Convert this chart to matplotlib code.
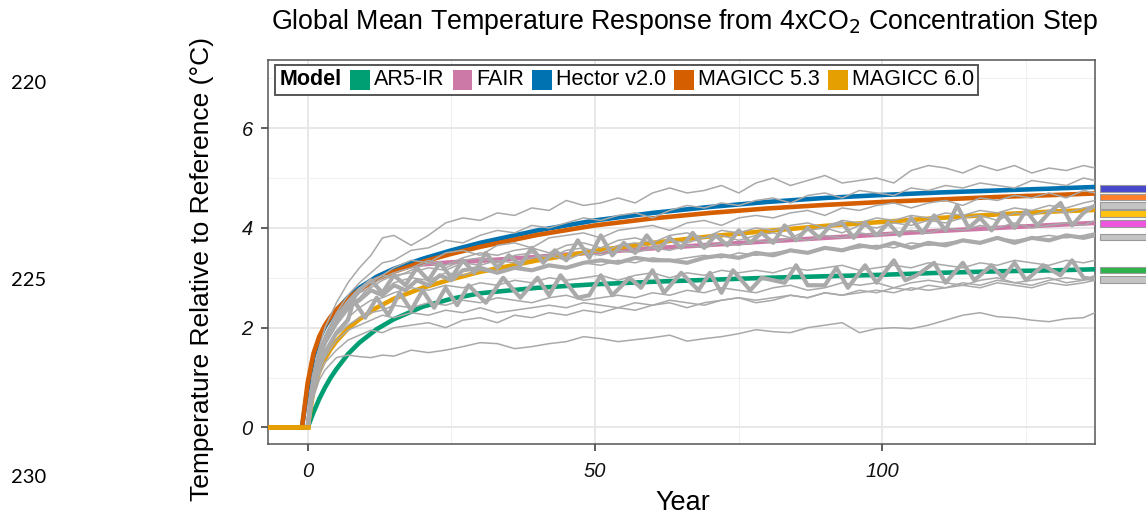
import numpy as np
import matplotlib
matplotlib.use("Agg")
import matplotlib.pyplot as plt
from matplotlib.patches import Rectangle
from matplotlib.transforms import blended_transform_factory
from matplotlib.offsetbox import HPacker, TextArea, DrawingArea, AnchoredOffsetbox

plt.rcParams['font.family'] = ['Liberation Sans', 'DejaVu Sans']

# model responses (smooth curves)
model_years = [-7, -1, 0, 1, 2, 3, 4, 5, 7, 9, 12, 15, 20, 25, 30, 40, 50, 60, 70, 80, 90, 100, 110, 120, 130, 137]
ar5ir = [0, 0, 0, 0.3, 0.57, 0.8, 1.0, 1.17, 1.47, 1.7, 1.97, 2.17, 2.42, 2.58, 2.69, 2.8, 2.87, 2.92, 2.96, 3.0, 3.03, 3.06, 3.1, 3.13, 3.15, 3.17]
fair = [0, 0, 0, 1.0, 1.45, 1.75, 1.98, 2.17, 2.5, 2.75, 3.02, 3.17, 3.27, 3.31, 3.34, 3.42, 3.51, 3.59, 3.66, 3.73, 3.8, 3.87, 3.94, 4.0, 4.06, 4.1]
hector = [0, 0, 0.8, 1.42, 1.78, 2.02, 2.2, 2.35, 2.6, 2.8, 3.02, 3.18, 3.38, 3.55, 3.7, 3.95, 4.15, 4.3, 4.42, 4.52, 4.6, 4.66, 4.71, 4.75, 4.79, 4.82]
magicc53 = [0, 0, 0.9, 1.48, 1.82, 2.05, 2.22, 2.36, 2.58, 2.76, 2.97, 3.12, 3.32, 3.48, 3.62, 3.86, 4.05, 4.19, 4.3, 4.39, 4.46, 4.52, 4.57, 4.62, 4.66, 4.69]
magicc60 = [0, 0, 0, 0.75, 1.12, 1.38, 1.57, 1.73, 1.98, 2.17, 2.4, 2.58, 2.8, 2.97, 3.12, 3.35, 3.54, 3.7, 3.83, 3.94, 4.04, 4.12, 4.2, 4.27, 4.33, 4.36]

model_names = ['AR5-IR', 'FAIR', 'Hector v2.0', 'MAGICC 5.3', 'MAGICC 6.0']
model_colors = ['#009E73', '#CC79A7', '#0072B2', '#D55E00', '#E69F00']

# CMIP5 runs (thin gray)
gray_years = [0, 1, 2, 3, 5, 7, 9, 11, 13, 15,
              18, 21, 24, 27, 30, 33, 36, 39, 42, 45,
              48, 51, 54, 57, 60, 63, 66, 69, 72, 75,
              78, 81, 84, 87, 90, 93, 96, 99, 102, 105,
              108, 111, 114, 117, 120, 123, 126, 129, 132, 135,
              137]
cmip_1 = [0, 1.1, 1.6, 2.0, 2.5, 2.9, 3.2, 3.45, 3.8, 3.85,
          3.65, 3.85, 4.1, 4.2, 4.15, 4.3, 4.25, 4.4, 4.35, 4.55,
          4.45, 4.5, 4.6, 4.5, 4.7, 4.8, 4.7, 4.75, 4.85, 4.7,
          4.9, 5.0, 4.85, 4.95, 5.05, 4.9, 4.95, 5.0, 4.9, 5.15,
          5.25, 5.2, 5.1, 5.25, 5.15, 5.25, 5.1, 5.2, 5.15, 5.25,
          5.2]
cmip_2 = [0, 1.0, 1.5, 1.85, 2.3, 2.65, 2.9, 3.1, 3.3, 3.35,
          3.55, 3.6, 3.75, 3.7, 3.85, 3.95, 3.9, 4.05, 4.0, 4.1,
          4.2, 4.15, 4.25, 4.3, 4.2, 4.35, 4.45, 4.4, 4.5, 4.45,
          4.55, 4.6, 4.5, 4.65, 4.7, 4.6, 4.75, 4.7, 4.65, 4.8,
          4.75, 4.85, 4.8, 4.9, 4.85, 4.8, 4.95, 4.9, 4.85, 5.0,
          4.95]
cmip_3 = [0, 1.1, 1.55, 1.8, 2.2, 2.5, 2.75, 2.95, 3.05, 3.2,
          3.35, 3.3, 3.5, 3.55, 3.45, 3.65, 3.7, 3.6, 3.8, 3.85,
          3.9, 3.8, 3.95, 4.0, 4.05, 3.95, 4.1, 4.15, 4.05, 4.2,
          4.25, 4.2, 4.3, 4.35, 4.25, 4.4, 4.35, 4.45, 4.5, 4.4,
          4.5, 4.55, 4.45, 4.6, 4.55, 4.65, 4.6, 4.7, 4.6, 4.75,
          4.7]
cmip_4 = [0, 0.9, 1.35, 1.7, 2.1, 2.45, 2.6, 2.85, 3.0, 3.1,
          3.2, 3.35, 3.25, 3.4, 3.5, 3.45, 3.55, 3.6, 3.5, 3.65,
          3.7, 3.6, 3.75, 3.8, 3.7, 3.85, 3.9, 3.8, 3.95, 3.9,
          4.0, 3.95, 4.05, 4.1, 4.0, 4.15, 4.1, 4.2, 4.15, 4.25,
          4.2, 4.3, 4.25, 4.35, 4.3, 4.4, 4.35, 4.45, 4.4, 4.5,
          4.55]
cmip_5 = [0, 1.0, 1.4, 1.75, 2.15, 2.4, 2.7, 2.8, 2.95, 3.05,
          3.1, 3.2, 3.15, 3.3, 3.25, 3.35, 3.3, 3.4, 3.45, 3.35,
          3.5, 3.45, 3.55, 3.5, 3.6, 3.55, 3.65, 3.6, 3.7, 3.65,
          3.75, 3.7, 3.8, 3.75, 3.85, 3.8, 3.9, 3.85, 3.9, 3.95,
          3.9, 4.0, 3.95, 4.05, 4.0, 4.1, 4.0, 4.05, 4.1, 4.05,
          4.15]
cmip_6 = [0, 0.95, 1.35, 1.65, 2.05, 2.35, 2.55, 2.75, 2.7, 2.9,
          3.0, 2.95, 3.1, 3.05, 3.15, 3.1, 3.2, 3.15, 3.25, 3.2,
          3.3, 3.25, 3.35, 3.3, 3.4, 3.35, 3.4, 3.45, 3.4, 3.5,
          3.45, 3.5, 3.55, 3.5, 3.6, 3.55, 3.6, 3.65, 3.6, 3.7,
          3.65, 3.7, 3.75, 3.7, 3.8, 3.75, 3.8, 3.85, 3.8, 3.85,
          3.9]
cmip_7 = [0, 0.85, 1.25, 1.55, 1.9, 2.2, 2.4, 2.55, 2.6, 2.7,
          2.8, 2.75, 2.85, 2.8, 2.9, 2.85, 2.95, 2.9, 3.0, 2.95,
          3.0, 3.05, 2.95, 3.05, 3.1, 3.0, 3.1, 3.05, 3.15, 3.1,
          3.15, 3.1, 3.2, 3.15, 3.2, 3.25, 3.15, 3.2, 3.25, 3.2,
          3.3, 3.25, 3.2, 3.3, 3.25, 3.35, 3.3, 3.25, 3.35, 3.3,
          3.35]
cmip_8 = [0, 0.8, 1.2, 1.5, 1.85, 2.05, 2.2, 2.3, 2.35, 2.45,
          2.4, 2.5, 2.45, 2.55, 2.5, 2.6, 2.55, 2.5, 2.6, 2.65,
          2.55, 2.6, 2.65, 2.6, 2.7, 2.65, 2.75, 2.7, 2.8, 2.75,
          2.7, 2.8, 2.85, 2.75, 2.8, 2.9, 2.85, 2.9, 2.8, 2.9,
          2.95, 2.9, 2.85, 2.95, 3.0, 2.9, 2.95, 3.0, 2.9, 2.95,
          3.0]
cmip_9 = [0, 0.75, 1.15, 1.4, 1.75, 1.95, 2.05, 2.15, 2.25, 2.2,
          2.3, 2.25, 2.35, 2.3, 2.4, 2.3, 2.35, 2.4, 2.45, 2.4,
          2.5, 2.45, 2.4, 2.5, 2.45, 2.55, 2.5, 2.45, 2.55, 2.6,
          2.55, 2.6, 2.65, 2.6, 2.7, 2.65, 2.7, 2.75, 2.7, 2.8,
          2.75, 2.8, 2.85, 2.8, 2.9, 2.85, 2.8, 2.9, 2.85, 2.9,
          2.95]
cmip_10 = [0, 0.7, 1.05, 1.3, 1.55, 1.75, 1.85, 1.95, 1.9, 2.0,
           2.05, 2.1, 2.0, 2.15, 2.2, 2.1, 2.25, 2.2, 2.3, 2.25,
           2.35, 2.3, 2.4, 2.35, 2.45, 2.5, 2.4, 2.5, 2.55, 2.6,
           2.5, 2.55, 2.65, 2.6, 2.7, 2.65, 2.75, 2.7, 2.8, 2.75,
           2.85, 2.8, 2.9, 2.85, 2.95, 2.9, 2.85, 2.95, 3.0, 2.95,
           3.05]
cmip_11 = [0, 1.05, 1.5, 1.8, 2.25, 2.55, 2.8, 2.9, 3.05, 3.0,
           3.15, 3.3, 3.2, 3.35, 3.4, 3.3, 3.45, 3.5, 3.4, 3.55,
           3.6, 3.5, 3.65, 3.7, 3.6, 3.75, 3.7, 3.8, 3.85, 3.75,
           3.85, 3.9, 3.8, 3.95, 4.0, 3.9, 4.05, 4.0, 4.1, 4.05,
           4.15, 4.1, 4.2, 4.25, 4.15, 4.3, 4.25, 4.35, 4.3, 4.4,
           4.45]
cmip_12 = [0, 0.6, 0.95, 1.15, 1.4, 1.45, 1.42, 1.4, 1.45, 1.43,
           1.55, 1.5, 1.55, 1.62, 1.7, 1.68, 1.58, 1.62, 1.68, 1.72,
           1.82, 1.78, 1.72, 1.76, 1.8, 1.85, 1.73, 1.78, 1.82, 1.88,
           1.96, 1.92, 1.9, 2.0, 2.05, 2.1, 1.9, 1.98, 2.0, 1.98,
           2.05, 2.15, 2.25, 2.3, 2.22, 2.2, 2.15, 2.12, 2.18, 2.2,
           2.3]
cmip_runs = [cmip_1, cmip_2, cmip_3, cmip_4, cmip_5, cmip_6,
             cmip_7, cmip_8, cmip_9, cmip_10, cmip_11, cmip_12]

# thick gray runs (strongly oscillating)
thick_a_years = [0, 1, 2, 3, 5, 7, 8, 10, 12, 14, 16, 18, 20, 22, 24, 26, 28, 31, 34, 37,
                 40, 42, 44, 47, 49, 51, 53, 56, 58, 60, 62, 65, 68, 70, 72, 74, 77, 79, 81, 83,
                 85, 87, 90, 92, 94, 97, 99, 102, 104, 106, 109, 111, 114, 116, 119, 121, 123, 125, 128, 131,
                 133, 135, 137]
thick_a = [0, 0.8, 1.2, 1.5, 1.9, 2.15, 2.55, 2.2, 2.6, 2.25, 2.7, 2.35, 2.75, 2.4, 2.8, 2.45, 2.85, 2.5, 3.0, 2.6,
           3.0, 2.65, 3.05, 2.6, 2.65, 3.05, 2.65, 3.0, 2.8, 3.15, 2.7, 3.1, 2.75, 3.1, 2.7, 3.15, 2.75, 3.0, 2.95, 2.9,
           3.25, 2.85, 2.85, 3.2, 2.8, 3.25, 2.9, 3.35, 2.95, 3.05, 3.3, 2.9, 3.3, 2.95, 3.25, 3.0, 3.3, 2.95, 3.25, 3.05,
           3.35, 3.0, 2.97]
thick_b_years = [0, 1, 2, 3, 5, 7, 9, 11, 13, 15, 17, 19, 21, 23, 25, 27, 29, 31, 33, 35,
                 37, 39, 41, 43, 45, 47, 49, 51, 53, 55, 57, 59, 61, 63, 65, 67, 69, 71, 73, 75,
                 77, 79, 81, 83, 85, 87, 89, 91, 93, 95, 97, 99, 101, 103, 105, 107, 109, 111, 113, 115,
                 117, 119, 121, 123, 125, 127, 129, 131, 133, 135, 137]
thick_b = [0, 1.0, 1.45, 1.75, 2.2, 2.5, 2.75, 2.95, 2.7, 3.05, 2.85, 3.2, 2.95, 3.3, 3.0, 3.35, 3.1, 3.5, 3.2, 3.45,
           3.25, 3.6, 3.3, 3.55, 3.35, 3.75, 3.4, 3.85, 3.45, 3.7, 3.5, 3.85, 3.55, 3.8, 3.6, 3.9, 3.6, 3.85, 3.65, 3.95,
           3.7, 3.9, 3.7, 4.05, 3.75, 4.0, 3.8, 4.05, 4.1, 3.8, 4.1, 3.85, 4.1, 3.85, 4.2, 3.9, 4.25, 3.95, 4.45, 4.0,
           4.2, 3.95, 4.3, 4.0, 4.35, 4.05, 4.3, 4.5, 4.05, 4.3, 4.45]
thick_c_years = [0, 1, 2, 3, 5, 7, 9, 11, 13, 15, 17, 19, 21, 23, 25, 27, 30, 33, 36, 39,
                 42, 45, 48, 51, 54, 57, 60, 63, 66, 69, 72, 75, 78, 81, 84, 87, 90, 93, 96, 99,
                 102, 105, 108, 111, 114, 117, 120, 123, 126, 129, 132, 135, 137]
thick_c = [0, 0.95, 1.4, 1.7, 2.1, 2.4, 2.55, 2.75, 2.65, 2.85, 2.75, 2.95, 2.85, 3.05, 2.95, 3.15, 3.2, 3.1, 3.2, 3.15,
           3.25, 3.2, 3.3, 3.35, 3.3, 3.4, 3.35, 3.35, 3.3, 3.4, 3.45, 3.4, 3.5, 3.45, 3.55, 3.5, 3.6, 3.55, 3.65, 3.6,
           3.7, 3.6, 3.7, 3.65, 3.75, 3.7, 3.8, 3.7, 3.8, 3.75, 3.85, 3.8, 3.85]

# end-value swatches cut off at the right edge of the page
swatch_levels = [4.79, 4.62, 4.45, 4.29, 4.09, 3.82, 3.16, 2.97]
swatch_colors = ['#4848CC', '#FF7F2A', '#C4C4C4', '#FFC20E', '#EE55DD', '#C4C4C4', '#2DB34A', '#C4C4C4']

page_line_numbers = ['220', '225', '230']

fig = plt.figure(figsize=(11.46, 5.15), dpi=100)
ax = fig.add_axes([0.2339, 0.138, 0.7216, 0.745])

for vals, c in zip([ar5ir, fair, hector, magicc53, magicc60], model_colors):
    ax.plot(model_years, vals, color=c, lw=3.3, solid_capstyle='butt', zorder=3)
# yellow flat segment before the step sits on top
ax.plot(model_years[:3], magicc60[:3], color=model_colors[4], lw=3.3, zorder=6)

for run in cmip_runs:
    ax.plot(gray_years, run, color='#A9A9A9', lw=1.1, zorder=4)
for yrs, vals in [(thick_a_years, thick_a), (thick_b_years, thick_b), (thick_c_years, thick_c)]:
    ax.plot(yrs, vals, color='#AAAAAA', lw=3.0, zorder=5)

ax.set_xlim(-6.9, 137.0)
ax.set_ylim(-0.33, 7.36)
ax.set_xticks([0, 50, 100])
ax.set_yticks([0, 2, 4, 6])
ax.set_xticks([25, 75, 125], minor=True)
ax.set_yticks([1, 3, 5, 7], minor=True)
ax.grid(which='major', color='#E6E6E6', lw=1.3, zorder=0)
ax.grid(which='minor', color='#F0F0F0', lw=0.8, zorder=0)
ax.set_axisbelow(True)
ax.tick_params(which='major', length=5, width=1.1, color='#333333', labelsize=14.5, labelcolor='#111111')
ax.tick_params(axis='x', pad=8)
ax.tick_params(axis='y', pad=6)
ax.tick_params(which='minor', length=0)
for lab in ax.get_xticklabels() + ax.get_yticklabels():
    lab.set_fontstyle('italic')
for s in ax.spines.values():
    s.set_color('#555555')
    s.set_linewidth(1.1)

ax.set_ylabel('Temperature Relative to Reference (°C)', fontsize=19)
ax.yaxis.set_label_coords(-0.065, 0.455)
ax.set_xlabel('Year', fontsize=19.5)
ax.xaxis.set_label_coords(0.502, -0.155)
ax.xaxis.label.set_va('center')

fig.text(0.597, 0.957, 'Global Mean Temperature Response from 4xCO$_2$ Concentration Step',
         ha='center', va='center', fontsize=19.3)

# legend built as a single row
items = [TextArea('Model', textprops=dict(fontweight='bold', fontsize=15.5))]
for name, c in zip(model_names, model_colors):
    da = DrawingArea(14, 14)
    da.add_artist(Rectangle((0, 0), 14, 14, fc=c, ec='none'))
    items.append(HPacker(children=[da, TextArea(name, textprops=dict(fontsize=15.5))], sep=3, align='center'))
row = HPacker(children=items, sep=6, align='center')
leg = AnchoredOffsetbox(loc='upper left', child=row, pad=0.3, borderpad=0.0, frameon=True,
                        bbox_to_anchor=(0.009, 0.987), bbox_transform=ax.transAxes)
leg.patch.set_edgecolor('#555555')
leg.patch.set_linewidth(1.4)
leg.patch.set_boxstyle('square', pad=0)
leg.zorder = 10
ax.add_artist(leg)

tr = blended_transform_factory(fig.transFigure, ax.transData)
for lvl, c in zip(swatch_levels, swatch_colors):
    fig.add_artist(Rectangle((0.96, lvl - 0.065), 0.05, 0.13, transform=tr, fc=c, ec='#9A9A9A', lw=0.8))

for txt, yy in zip(page_line_numbers, [0.838, 0.456, 0.072]):
    fig.text(0.010, yy, txt, fontsize=14.5, va='center', family=['Lato', 'DejaVu Sans'])

fig.savefig('out.png', dpi=100)
